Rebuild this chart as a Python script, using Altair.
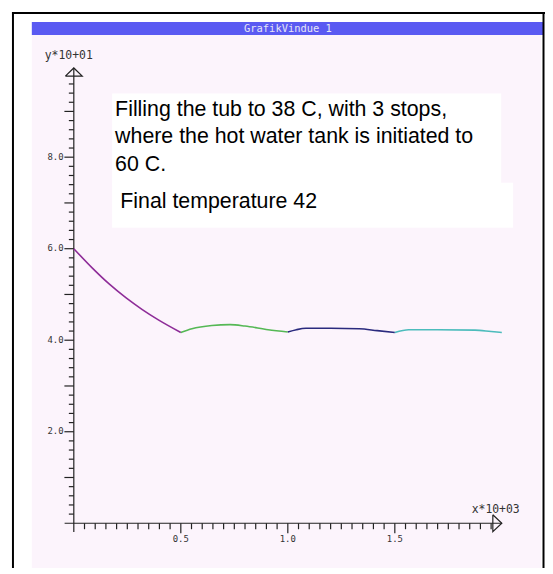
import altair as alt
import pandas as pd

# ---------------- data (x in 10^3, y in 10^1) ----------------
purple_x = [0.0, 0.088, 0.165, 0.243, 0.320, 0.397, 0.500]
purple_y = [6.00, 5.57, 5.23, 4.93, 4.67, 4.44, 4.17]
green_x = [0.500, 0.552, 0.645, 0.730, 0.800, 0.908, 1.000]
green_y = [4.17, 4.25, 4.32, 4.34, 4.31, 4.23, 4.18]
navy_x = [1.000, 1.040, 1.085, 1.200, 1.333, 1.418, 1.500]
navy_y = [4.18, 4.23, 4.26, 4.26, 4.25, 4.21, 4.17]
teal_x = [1.500, 1.565, 1.700, 1.874, 1.950, 2.000]
teal_y = [4.17, 4.23, 4.23, 4.22, 4.19, 4.17]

seg_names = ["stop 1", "stop 2", "stop 3", "stop 4"]
seg_colors = ["#8e2c98", "#55b855", "#2a2a7e", "#4cbcbc"]

y_label_vals = [2.0, 4.0, 6.0, 8.0]
y_labels = ["2.0", "4.0", "6.0", "8.0"]
x_label_vals = [0.5, 1.0, 1.5]
x_labels = ["0.5", "1.0", "1.5"]

text_lines = ["Filling the tub to 38 C, with 3 stops,",
              "where the hot water tank is initiated to",
              "60 C.",
              "Final temperature 42"]
text_x = [0.193, 0.193, 0.193, 0.217]
text_y = [8.89, 8.30, 7.70, 6.90]

W, H = 541, 562
xs = alt.Scale(domain=[0, 2], range=[66.3, 497.5], nice=False, zero=False)
ys = alt.Scale(domain=[0, 10], range=[517.0, 56.0], nice=False, zero=False)


def X(f):
    return alt.X(f, type="quantitative", scale=xs, axis=None)


def Y(f):
    return alt.Y(f, type="quantitative", scale=ys, axis=None)


one = pd.DataFrame({"k": [0]})
AXC = "#222222"
BLUE = "#5a5af2"
PINK = "#fcf4fc"

# ---------------- window chrome ----------------
pink = alt.Chart(one).mark_rect(color=PINK).encode(
    x=alt.value(24), x2=alt.value(537), y=alt.value(25), y2=alt.value(562))
bar = alt.Chart(one).mark_rect(color=BLUE).encode(
    x=alt.value(24), x2=alt.value(539), y=alt.value(12), y2=alt.value(25))
bar_text = alt.Chart(one).mark_text(
    text="GrafikVindue  1", font="DejaVu Sans Mono", fontSize=10.5,
    color="#e6e6f6", align="center", baseline="middle").encode(
    x=alt.value(282), y=alt.value(19))
b_left = alt.Chart(one).mark_rule(color="black", strokeWidth=2).encode(
    x=alt.value(5), y=alt.value(2), y2=alt.value(H))
b_top = alt.Chart(one).mark_rule(color="black", strokeWidth=2).encode(
    x=alt.value(4), x2=alt.value(541), y=alt.value(3))
b_right = alt.Chart(one).mark_rule(color="black", strokeWidth=2).encode(
    x=alt.value(539.5), y=alt.value(2), y2=alt.value(H))

# ---------------- annotation ----------------
boxes = pd.DataFrame({"x": [0.179, 0.179], "x2": [1.997, 2.053],
                      "y": [9.39, 7.44], "y2": [7.40, 6.46]})
box_layer = alt.Chart(boxes).mark_rect(color="white").encode(
    x=X("x"), x2="x2", y=Y("y"), y2="y2")
tdf = pd.DataFrame({"x": text_x, "y": text_y, "t": text_lines})
text_layer = alt.Chart(tdf).mark_text(
    align="left", baseline="alphabetic", font="Liberation Sans",
    fontSize=21.5, color="black").encode(x=X("x"), y=Y("y"), text="t:N")

# ---------------- axes ----------------
axes_df = pd.DataFrame({"x": [0.0, -0.043], "x2": [0.0, 2.0],
                        "y": [-0.19, 0.0], "y2": [9.95, 0.0]})
axes_layer = alt.Chart(axes_df).mark_rule(color=AXC, strokeWidth=1.2).encode(
    x=X("x"), x2="x2", y=Y("y"), y2="y2")

yt = []
for i in range(1, 49):
    v = round(0.2 * i, 1)
    ln = 0.044 if i % 5 == 0 else 0.0232
    yt.append({"x": -ln, "x2": 0.0, "y": v, "y2": v})
xt = []
for i in range(1, 40):
    v = round(0.05 * i, 2)
    ln = 0.217 if i % 10 == 0 else 0.130
    xt.append({"x": v, "x2": v, "y": 0.0, "y2": -ln})
ticks = pd.DataFrame(yt + xt)
ticks_layer = alt.Chart(ticks).mark_rule(color=AXC, strokeWidth=1.2).encode(
    x=X("x"), x2="x2", y=Y("y"), y2="y2")

arrows = pd.DataFrame({
    "x": [-0.0394, 0.0, 0.0394, -0.0394, 1.958, 2.0, 1.958, 1.958],
    "y": [9.77, 9.95, 9.77, 9.77, 0.185, 0.0, -0.185, 0.185],
    "a": ["y", "y", "y", "y", "x", "x", "x", "x"],
    "o": [0, 1, 2, 3, 0, 1, 2, 3]})
arrow_layer = alt.Chart(arrows).mark_line(color=AXC, strokeWidth=1.2).encode(
    x=X("x"), y=Y("y"), detail="a:N", order="o:Q")

ylab = pd.DataFrame({"x": [-0.048] * 4, "y": y_label_vals, "t": y_labels})
ylab_layer = alt.Chart(ylab).mark_text(
    align="right", baseline="alphabetic", dy=2.5, font="DejaVu Sans Mono",
    fontSize=9, color="#333333").encode(x=X("x"), y=Y("y"), text="t:N")
xlab = pd.DataFrame({"x": x_label_vals, "y": [-0.41] * 3, "t": x_labels})
xlab_layer = alt.Chart(xlab).mark_text(
    align="center", baseline="alphabetic", font="DejaVu Sans Mono",
    fontSize=9, color="#333333").encode(x=X("x"), y=Y("y"), text="t:N")
titles = pd.DataFrame({"x": [-0.136, 1.859], "y": [10.15, 0.217],
                       "t": ["y*10+01", "x*10+03"]})
title_layer = alt.Chart(titles).mark_text(
    align="left", baseline="alphabetic", font="DejaVu Sans Mono",
    fontSize=11.5, color="#333333").encode(x=X("x"), y=Y("y"), text="t:N")

# ---------------- curves ----------------
rows = []
for name, xv, yv in zip(seg_names, [purple_x, green_x, navy_x, teal_x],
                        [purple_y, green_y, navy_y, teal_y]):
    for j, (a, b) in enumerate(zip(xv, yv)):
        rows.append({"x": a, "y": b, "seg": name, "o": j})
curves = pd.DataFrame(rows)
curve_layer = alt.Chart(curves).mark_line(
    strokeWidth=1.6, interpolate="monotone").encode(
    x=X("x"), y=Y("y"),
    color=alt.Color("seg:N", scale=alt.Scale(domain=seg_names, range=seg_colors),
                    legend=None),
    order="o:Q")

chart = alt.layer(
    pink, bar, bar_text, b_left, b_top, b_right,
    box_layer, text_layer,
    axes_layer, ticks_layer, arrow_layer,
    ylab_layer, xlab_layer, title_layer,
    curve_layer,
).properties(
    width=W, height=H, padding=0,
    autosize=alt.AutoSizeParams(type="none"),
    background="white",
).configure_view(strokeWidth=0)

chart.save("out.html", embed_options={"renderer": "svg", "actions": False})
